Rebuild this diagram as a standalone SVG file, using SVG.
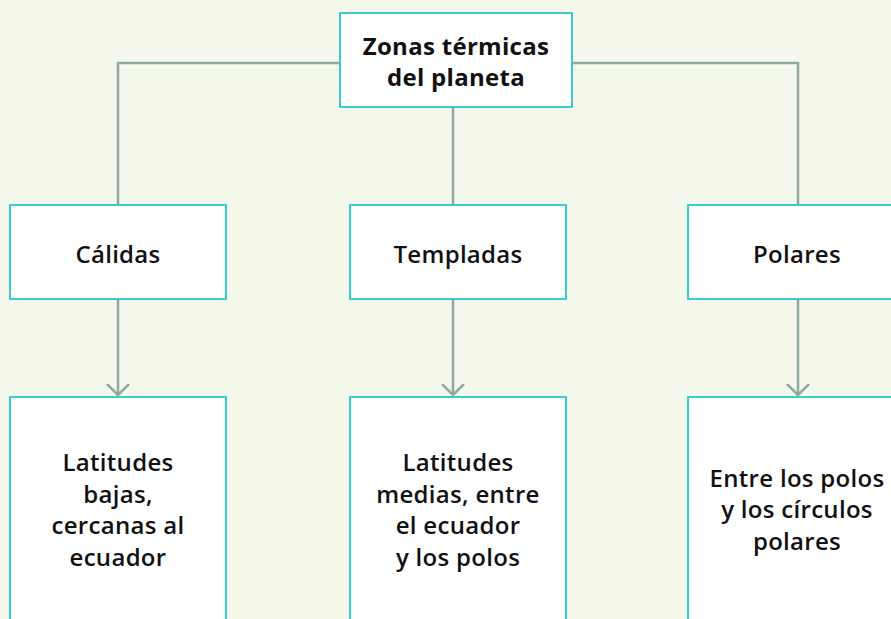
<svg xmlns="http://www.w3.org/2000/svg" width="891" height="619" viewBox="0 0 891 619">
<defs>
<style>
.box{fill:#ffffff;stroke:#3ec9d6;stroke-width:2}
.t{font-family:"Open Sans","Liberation Sans",sans-serif;font-size:24px;letter-spacing:0.3px;fill:#111111;text-anchor:middle;font-weight:bold}
.m{font-weight:600}
.c{fill:none;stroke:#8fa9a1;stroke-width:2.5}
</style>
<marker id="ah" viewBox="0 0 12 24" refX="11" refY="12" markerWidth="12" markerHeight="24" markerUnits="userSpaceOnUse" orient="auto">
<path d="M0,1 L11,12 L0,23" fill="none" stroke="#8fa9a1" stroke-width="2.5"/>
</marker>
</defs>
<rect width="891" height="619" fill="#f4f8ea"/>
<g id="connectors">
<path class="c" d="M118,205 V63 H340"/>
<path class="c" d="M572,63 H798 V205"/>
<path class="c" d="M453,107 V205"/>
<path class="c" d="M118,299 V395" marker-end="url(#ah)"/>
<path class="c" d="M453,299 V395" marker-end="url(#ah)"/>
<path class="c" d="M798,299 V395" marker-end="url(#ah)"/>
</g>
<g id="root">
<rect class="box" x="340" y="13" width="232" height="94"/>
<text class="t" x="456" y="55">Zonas térmicas</text>
<text class="t" x="456" y="86">del planeta</text>
</g>
<g id="calidas">
<rect class="box" x="10" y="205" width="216" height="94"/>
<text class="t m" x="118" y="263">Cálidas</text>
</g>
<g id="templadas">
<rect class="box" x="350" y="205" width="216" height="94"/>
<text class="t m" x="458" y="263">Templadas</text>
</g>
<g id="polares">
<rect class="box" x="688" y="205" width="216" height="94"/>
<text class="t m" x="797" y="263">Polares</text>
</g>
<g id="calidas-desc">
<rect class="box" x="10" y="397" width="216" height="240"/>
<text class="t m" x="118" y="471">Latitudes</text>
<text class="t m" x="118" y="503">bajas,</text>
<text class="t m" x="118" y="534">cercanas al</text>
<text class="t m" x="118" y="566">ecuador</text>
</g>
<g id="templadas-desc">
<rect class="box" x="350" y="397" width="216" height="240"/>
<text class="t m" x="458" y="471">Latitudes</text>
<text class="t m" x="458" y="503">medias, entre</text>
<text class="t m" x="458" y="534">el ecuador</text>
<text class="t m" x="458" y="566">y los polos</text>
</g>
<g id="polares-desc">
<rect class="box" x="688" y="397" width="216" height="240"/>
<text class="t m" x="797" y="487">Entre los polos</text>
<text class="t m" x="797" y="518">y los círculos</text>
<text class="t m" x="797" y="550">polares</text>
</g>
</svg>
